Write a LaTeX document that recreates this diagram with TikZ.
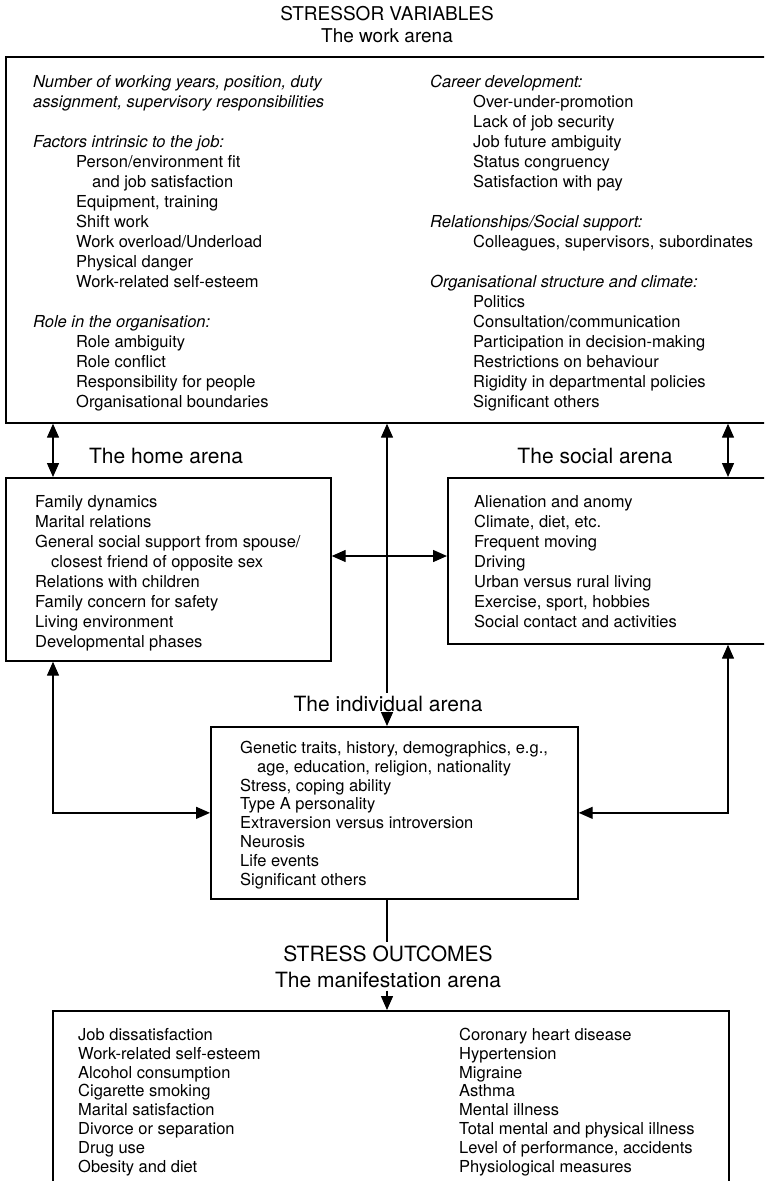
\documentclass[tikz,border=0pt]{standalone}
\usepackage{fontspec}
\setmainfont{TeX Gyre Heros}
\usetikzlibrary{arrows.meta,positioning}

\newcommand{\itemsize}{\fontsize{16.5}{20}\selectfont}
\newcommand{\tightsize}{\fontsize{16.5}{18.9}\selectfont}
\newcommand{\ind}{\hspace*{43pt}}

\begin{document}
\begin{tikzpicture}[
    x=1pt, y=-1pt,
    >={Triangle[length=14pt,width=12pt]},
    arena/.style={
		rectangle,
		draw=black,
		line width=1.7pt,
		anchor=north west,
		inner sep=0pt
	},
	items/.style={
		anchor=north west,
		inner sep=0pt
	},
	title/.style={
		anchor=base,
		inner sep=3pt,
		font=\fontsize{21}{25}\selectfont
	},
	head/.style={
		anchor=base,
		inner sep=3pt,
		font=\fontsize{19}{23}\selectfont
	},
	link/.style={
		line width=1.4pt
	}
  ]
  \useasboundingbox (0,0) rectangle (764,1181);
  \clip (0,0) rectangle (764,1181);

  % headings and arena names
  \node [head] (stressor) at (387,20) {STRESSOR VARIABLES};
  \node [head] (workarena) at (387,42) {The work arena};
  \node [title] (homearena) at (166,463) {The home arena};
  \node [title] (socialarena) at (595,463) {The social arena};
  \node [title] (indarena) at (388,711) {The individual arena};
  \node [title] (outcomes) at (388,961) {STRESS OUTCOMES};
  \node [title] (manarena) at (388,987) {The manifestation arena};

  % the boxes
  \node [arena, minimum width=764pt, minimum height=366pt] (work) at (5,56) {};
  \node [arena, minimum width=325pt, minimum height=183pt] (home) at (5,477) {};
  \node [arena, minimum width=330pt, minimum height=166pt] (social) at (447,477) {};
  \node [arena, minimum width=367pt, minimum height=172pt] (indiv) at (210,726) {};
  \node [arena, minimum width=676pt, minimum height=200pt] (manif) at (52,1010) {};

  \node [items] (workleft) at (33,73)
 {\itemsize
 \begin{tabular}{@{}l@{}}
  \textit{Number of working years, position, duty}\\
  \textit{assignment, supervisory responsibilities}\\
  \\
  \textit{Factors intrinsic to the job:}\\
  \ind Person/environment fit\\
  \ind\hspace*{16pt}and job satisfaction\\
  \ind Equipment, training\\
  \ind Shift work\\
  \ind Work overload/Underload\\
  \ind Physical danger\\
  \ind Work-related self-esteem\\
  \\
  \textit{Role in the organisation:}\\
  \ind Role ambiguity\\
  \ind Role conflict\\
  \ind Responsibility for people\\
  \ind Organisational boundaries
 \end{tabular}
 };

  \node [items] (workright) at (430,73)
 {\itemsize
 \begin{tabular}{@{}l@{}}
  \textit{Career development:}\\
  \ind Over-under-promotion\\
  \ind Lack of job security\\
  \ind Job future ambiguity\\
  \ind Status congruency\\
  \ind Satisfaction with pay\\
  \\
  \textit{Relationships/Social support:}\\
  \ind Colleagues, supervisors, subordinates\\
  \\
  \textit{Organisational structure and climate:}\\
  \ind Politics\\
  \ind Consultation/communication\\
  \ind Participation in decision-making\\
  \ind Restrictions on behaviour\\
  \ind Rigidity in departmental policies\\
  \ind Significant others
 \end{tabular}
 };

  \node [items] (homeitems) at (35,493)
 {\itemsize
 \begin{tabular}{@{}l@{}}
  Family dynamics\\
  Marital relations\\
  General social support from spouse/\\
  \hspace*{16pt}closest friend of opposite sex\\
  Relations with children\\
  Family concern for safety\\
  Living environment\\
  Developmental phases
 \end{tabular}
 };

  \node [items] (socialitems) at (474,493)
 {\itemsize
 \begin{tabular}{@{}l@{}}
  Alienation and anomy\\
  Climate, diet, etc.\\
  Frequent moving\\
  Driving\\
  Urban versus rural living\\
  Exercise, sport, hobbies\\
  Social contact and activities
 \end{tabular}
 };

  \node [items] (inditems) at (240,739.8)
 {\tightsize
 \begin{tabular}{@{}l@{}}
  Genetic traits, history, demographics, e.g.,\\
  \hspace*{17pt}age, education, religion, nationality\\
  Stress, coping ability\\
  Type A personality\\
  Extraversion versus introversion\\
  Neurosis\\
  Life events\\
  Significant others
 \end{tabular}
 };

  \node [items] (manleft) at (78,1026.8)
 {\tightsize
 \begin{tabular}{@{}l@{}}
  Job dissatisfaction\\
  Work-related self-esteem\\
  Alcohol consumption\\
  Cigarette smoking\\
  Marital satisfaction\\
  Divorce or separation\\
  Drug use\\
  Obesity and diet
 \end{tabular}
 };

  \node [items] (manright) at (459,1026.8)
 {\tightsize
 \begin{tabular}{@{}l@{}}
  Coronary heart disease\\
  Hypertension\\
  Migraine\\
  Asthma\\
  Mental illness\\
  Total mental and physical illness\\
  Level of performance, accidents\\
  Physiological measures
 \end{tabular}
 };

  % columns the connectors run on
  \coordinate (mid) at (387,556);
  \coordinate (lcol) at (53,0);
  \coordinate (rcol) at (728,0);

  \draw [link,<->] (work.south -| lcol) -- (home.north -| lcol);
  \draw [link,<->] (work.south -| rcol) -- (social.north -| rcol);
  \draw [link,<->] (home.east |- mid) -- (social.west |- mid);
  \draw [link,->] (indarena.north -| mid) -- (work.south -| mid);
  \draw [link,->] (indarena.south -| mid) -- (indiv.north -| mid);
  \draw [link,<->] (home.south -| lcol) |- (indiv.west);
  \draw [link,<->] (social.south -| rcol) |- (indiv.east);
  \draw [link] (indiv.south -| mid) -- (outcomes.north -| mid);
  \draw [link,->] (manarena.south -| mid) -- (manif.north -| mid);

\end{tikzpicture}
\end{document}
